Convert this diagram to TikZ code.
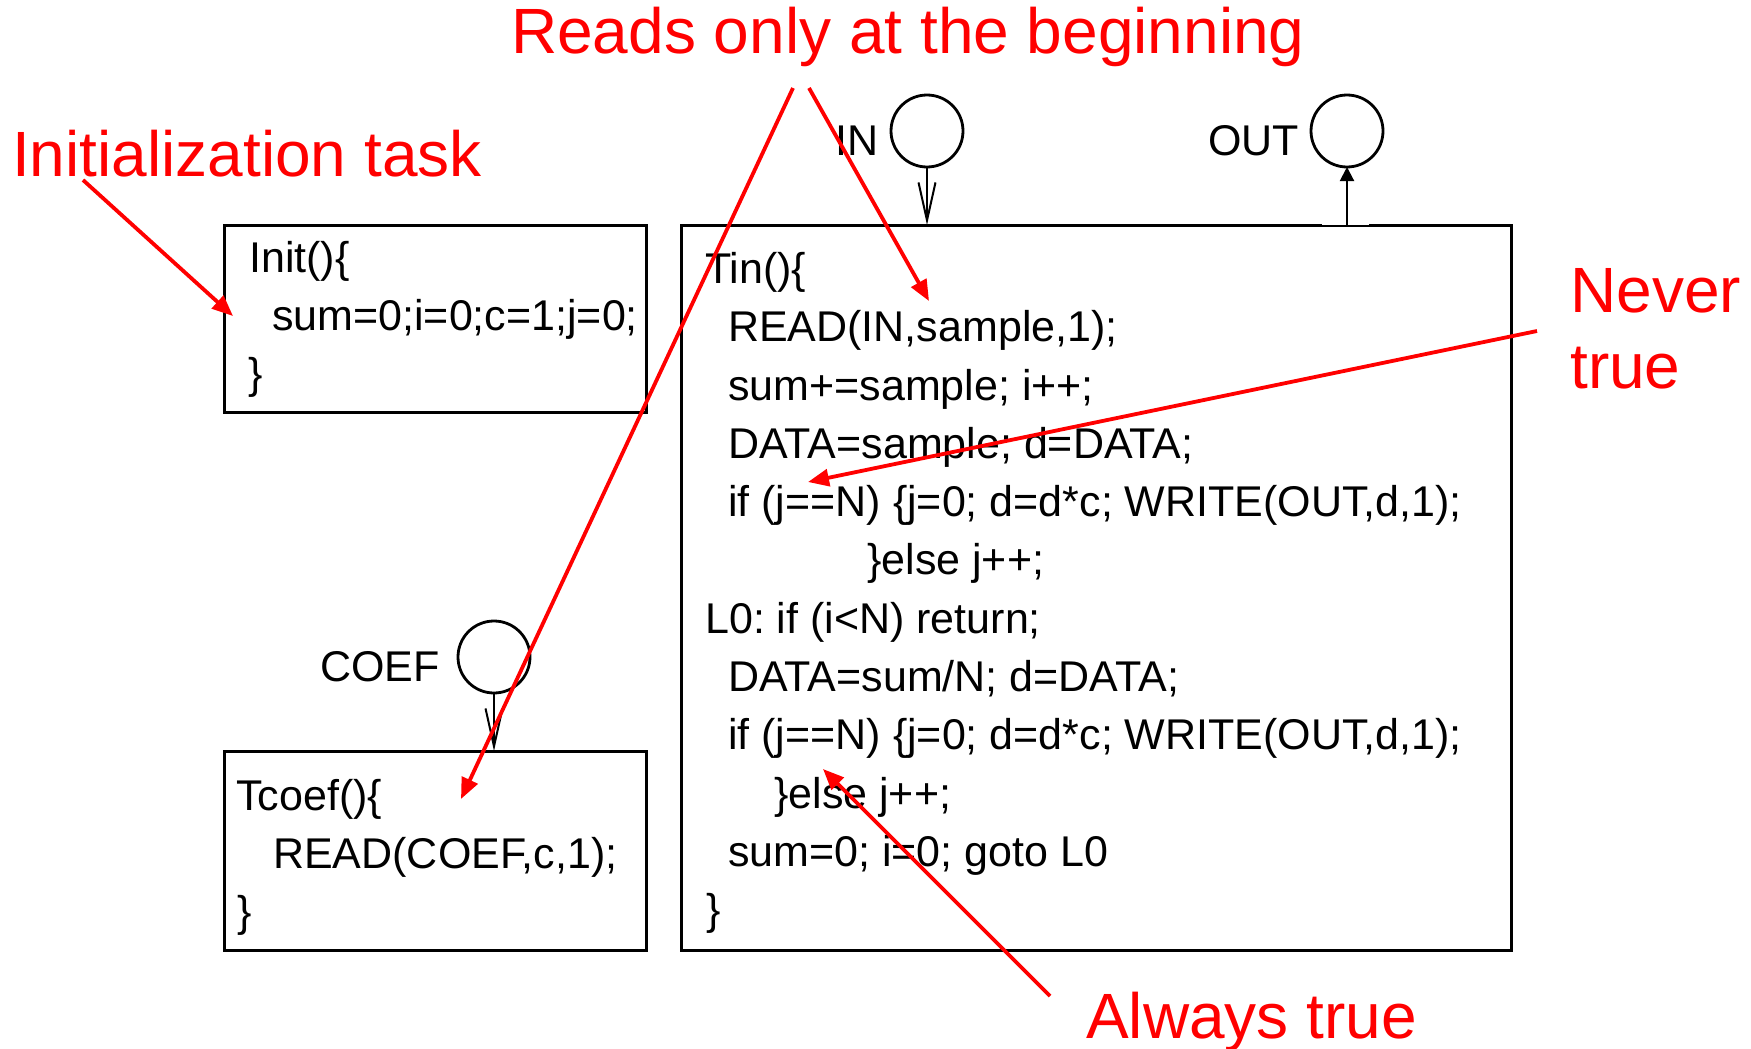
\documentclass[tikz,border=0pt]{standalone}
\usepackage{fontspec}
\setmainfont{Liberation Sans}
\usetikzlibrary{arrows.meta}
\definecolor{notered}{RGB}{255,0,0}
\frenchspacing
\begin{document}
\begin{tikzpicture}[x=1pt,y=-1pt,
  code/.style={anchor=base west, inner sep=0pt, font=\fontsize{43}{51}\selectfont},
  note/.style={anchor=base west, inner sep=0pt, text=notered, font=\fontsize{64}{76}\selectfont},
  taskbox/.style={draw, line width=3pt, inner sep=0pt, outer sep=0pt},
  port/.style={circle, draw, line width=2.8pt, minimum size=72pt, inner sep=0pt, outer sep=0pt},
  inflow/.style={line width=2pt, -{Straight Barb[length=38pt,width=17pt]}},
  outflow/.style={line width=2pt, -{Triangle[length=14pt,width=14pt]}},
  remark/.style={draw=notered, line width=3.8pt, -{Triangle[length=21pt,width=17pt]}}
]
\useasboundingbox (0,0) rectangle (1751,1049);
\fill[white] (0,0) rectangle (1751,1049);

% task boxes
\node[taskbox, minimum width=422pt, minimum height=187pt] (initbox) at (435,318.5) {};
\node[taskbox, minimum width=830pt, minimum height=725pt] (tinbox) at (1096,587.5) {};
\node[taskbox, minimum width=422pt, minimum height=199pt] (tcoefbox) at (435,850.5) {};

% channel ports
\node[port] (in) at (927,131) {};
\node[port] (out) at (1347,131) {};
\node[port] (coef) at (494,657) {};
\node[code] (inlbl) at (835,155) {IN};
\node[code] (outlbl) at (1208,155) {OUT};
\node[code] (coeflbl) at (320,681) {COEF};

% port of Tin towards OUT
\fill[white] (1322,222) rectangle (1369,225.4);

\draw[inflow] (in.south) -- (in.south |- tinbox.north);
\draw[outflow] (out.south |- tinbox.north) -- (out.south);
\draw[inflow] (coef.south) -- (coef.south |- tcoefbox.north);

% Init task
\node[code] (init1) at (249,272) {Init()\{};
\node[code] (init2) at (272,330) {sum=0;i=0;c=1;j=0;};
\node[code] (init3) at (248,388) {\}};

% Tcoef task
\node[code] (tcoef1) at (236,810) {Tcoef()\{};
\node[code] (tcoef2) at (273,868) {READ(COEF,c,1);};
\node[code] (tcoef3) at (237,926) {\}};

% Tin task
\node[code] (tin1)  at (705,283) {Tin()\{};
\node[code] (tin2)  at (728,341) {READ(IN,sample,1);};
\node[code] (tin3)  at (728,400) {sum+=sample; i++;};
\node[code] (tin4)  at (728,458) {DATA=sample; d=DATA;};
\node[code] (tin5)  at (728,516) {if (j==N) \{j=0; d=d*c; WRITE(OUT,d,1);};
\node[code] (tin6)  at (867,574) {\}else j++;};
\node[code] (tin7)  at (705,633) {L0: if (i<N) return;};
\node[code] (tin8)  at (728,691) {DATA=sum/N; d=DATA;};
\node[code] (tin9)  at (728,749) {if (j==N) \{j=0; d=d*c; WRITE(OUT,d,1);};
\node[code] (tin10) at (774,808) {\}else j++;};
\node[code] (tin11) at (728,866) {sum=0; i=0; goto L0};
\node[code] (tin12) at (706,924) {\}};

% annotations
\node[note] (initnote) at (12,176) {Initialization task};
\node[note] (readsnote) at (511,54) {Reads only at the beginning};
\node[note] (nevernote) at (1570,312) {Never};
\node[note] (nevernoteb) at (1570,388) {true};
\node[note] (alwaysnote) at (1086,1038) {Always true};

\coordinate (initfrom) at (83,180);
\coordinate (initto) at (233,316);
\coordinate (readsfromA) at (809,88);
\coordinate (readstoA) at (929,301);
\coordinate (readsfromB) at (793,88);
\coordinate (readstoB) at (461,799);
\coordinate (neverfrom) at (1537,331);
\coordinate (neverto) at (808,482);
\coordinate (alwaysfrom) at (1050,996);
\coordinate (alwaysto) at (823,769);

\draw[remark] (initfrom) -- (initto);
\draw[remark] (readsfromA) -- (readstoA);
\draw[remark] (readsfromB) -- (readstoB);
\draw[remark] (neverfrom) -- (neverto);
\draw[remark] (alwaysfrom) -- (alwaysto);
\end{tikzpicture}
\end{document}
